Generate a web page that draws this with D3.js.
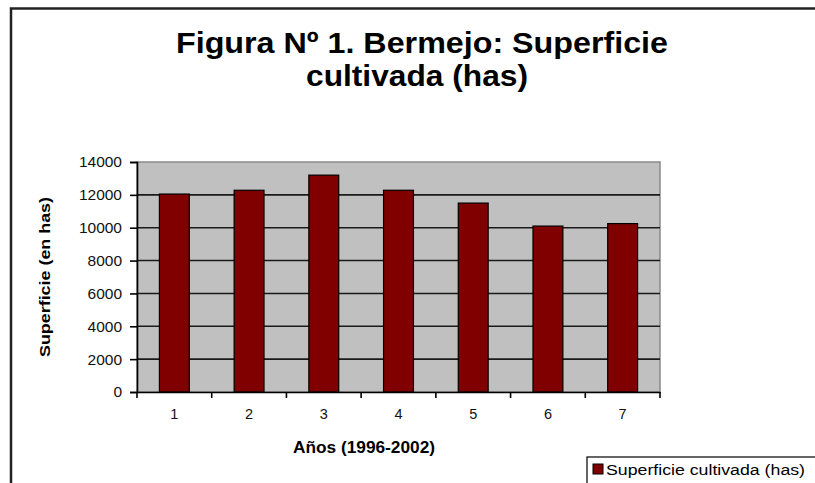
<!DOCTYPE html>
<html>
<head>
<meta charset="utf-8">
<script src="https://cdn.jsdelivr.net/npm/d3@7"></script>
<style>
  body { margin: 0; background: #fff; }
  svg { display: block; font-family: "Liberation Sans", Arial, sans-serif; }
</style>
</head>
<body>
<div id="chart"></div>
<script>
// Data
const years = ['1', '2', '3', '4', '5', '6', '7'];
const superficie = [12050, 12280, 13200, 12280, 11500, 10100, 10250];
const yTicks = [0, 2000, 4000, 6000, 8000, 10000, 12000, 14000];

const W = 815, H = 483;
const plot = {left: 137, right: 660, top: 162, bottom: 392};
const font = '"Liberation Sans", Arial, sans-serif';

const svg = d3.select('#chart').append('svg')
    .attr('width', W)
    .attr('height', H);

// outer frame (only left and top edges show)
svg.append('path')
    .attr('d', `M11,${H} L11,8.5 L${W},8.5`)
    .attr('fill', 'none')
    .attr('stroke', '#222')
    .attr('stroke-width', 2.5);

// title, text in the source is drawn a bit wide
svg.append('text')
    .attr('x', 176).attr('y', 53)
    .attr('font-size', 30)
    .attr('font-weight', 'bold')
    .attr('textLength', 492)
    .attr('lengthAdjust', 'spacingAndGlyphs')
    .text('Figura Nº 1. Bermejo: Superficie');
svg.append('text')
    .attr('x', 306).attr('y', 86)
    .attr('font-size', 30)
    .attr('font-weight', 'bold')
    .attr('textLength', 222)
    .attr('lengthAdjust', 'spacingAndGlyphs')
    .text('cultivada (has)');

const x = d3.scaleBand()
    .domain(years)
    .range([plot.left, plot.right])
    .padding(0);
const xBar = d3.scaleBand()
    .domain(years)
    .range([plot.left, plot.right])
    .paddingInner(0.6)
    .paddingOuter(0.3);
const y = d3.scaleLinear()
    .domain([0, 14000])
    .range([plot.bottom, plot.top]);

// plot background
svg.append('rect')
    .attr('x', plot.left)
    .attr('y', plot.top)
    .attr('width', plot.right - plot.left)
    .attr('height', plot.bottom - plot.top)
    .attr('fill', '#c0c0c0')
    .attr('stroke', '#8a8a8a')
    .attr('stroke-width', 1.5);

// gridlines
svg.append('g')
    .selectAll('line')
    .data(yTicks.filter(d => d > 0 && d < 14000))
    .join('line')
    .attr('x1', plot.left)
    .attr('x2', plot.right)
    .attr('y1', d => y(d))
    .attr('y2', d => y(d))
    .attr('stroke', '#1a1a1a')
    .attr('stroke-width', 1.6);

// bars
svg.append('g')
    .selectAll('rect')
    .data(superficie)
    .join('rect')
    .attr('x', (d, i) => xBar(years[i]))
    .attr('y', d => y(d))
    .attr('width', xBar.bandwidth())
    .attr('height', d => y(0) - y(d))
    .attr('fill', '#800000')
    .attr('stroke', '#000')
    .attr('stroke-width', 1.2);

// y axis
const yAxis = svg.append('g')
    .attr('transform', `translate(${plot.left},0)`)
    .call(d3.axisLeft(y).tickValues(yTicks).tickFormat(d3.format('d')).tickSize(7).tickPadding(8));
yAxis.select('.domain').attr('stroke', '#000').attr('stroke-width', 1.6);
yAxis.selectAll('.tick line').attr('stroke', '#000').attr('stroke-width', 1.6);
yAxis.selectAll('text')
    .attr('font-size', 15.5)
    .attr('font-family', font)
    .attr('fill', '#111');

// x axis, ticks sit on the category boundaries
const xAxis = svg.append('g')
    .attr('transform', `translate(0,${plot.bottom})`)
    .call(d3.axisBottom(x).tickSize(0).tickPadding(17));
xAxis.select('.domain').attr('stroke', '#000').attr('stroke-width', 1.6);
xAxis.selectAll('text')
    .attr('font-size', 14.5)
    .attr('font-family', font)
    .attr('fill', '#111');
xAxis.selectAll('line.bound')
    .data(years.concat(['end']))
    .join('line')
    .attr('class', 'bound')
    .attr('x1', (d, i) => i < years.length ? x(d) : plot.right)
    .attr('x2', (d, i) => i < years.length ? x(d) : plot.right)
    .attr('y1', 0)
    .attr('y2', 6)
    .attr('stroke', '#000')
    .attr('stroke-width', 1.6);

// axis titles
svg.append('text')
    .attr('transform', 'translate(50,357) rotate(-90)')
    .attr('font-size', 15)
    .attr('font-weight', 'bold')
    .attr('textLength', 160)
    .attr('lengthAdjust', 'spacingAndGlyphs')
    .text('Superficie (en has)');

svg.append('text')
    .attr('x', 293)
    .attr('y', 453)
    .attr('font-size', 16)
    .attr('font-weight', 'bold')
    .attr('textLength', 142)
    .attr('lengthAdjust', 'spacingAndGlyphs')
    .text('Años (1996-2002)');

// legend, runs off the page edge
const legend = svg.append('g').attr('transform', 'translate(587,457)');
legend.append('rect')
    .attr('x', 0).attr('y', 0)
    .attr('width', 240).attr('height', 40)
    .attr('fill', '#fff')
    .attr('stroke', '#000')
    .attr('stroke-width', 1.2);
legend.append('rect')
    .attr('x', 6).attr('y', 7)
    .attr('width', 10).attr('height', 10)
    .attr('fill', '#800000')
    .attr('stroke', '#000')
    .attr('stroke-width', 1);
legend.append('text')
    .attr('x', 19).attr('y', 18)
    .attr('font-size', 14)
    .attr('textLength', 199)
    .attr('lengthAdjust', 'spacingAndGlyphs')
    .text('Superficie cultivada (has)');
</script>
</body>
</html>
